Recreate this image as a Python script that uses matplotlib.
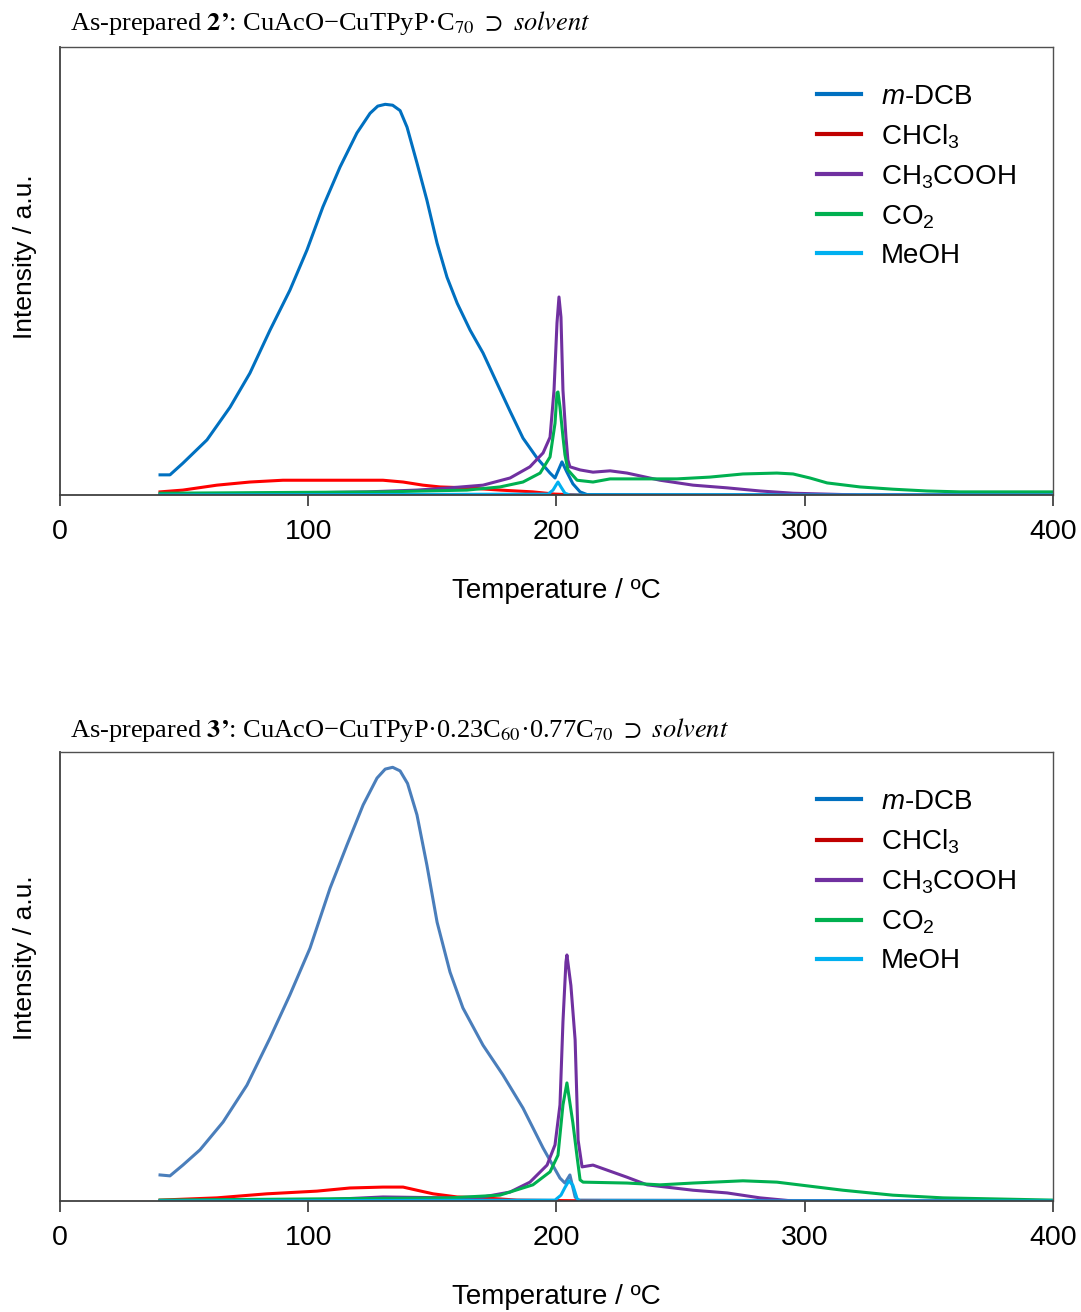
import matplotlib
matplotlib.use("Agg")
import matplotlib.pyplot as plt
from matplotlib.lines import Line2D

plt.rcParams['font.family'] = ['Liberation Sans', 'DejaVu Sans']
plt.rcParams['mathtext.fontset'] = 'custom'
plt.rcParams['mathtext.rm'] = 'Liberation Sans'
plt.rcParams['mathtext.it'] = 'Liberation Sans:italic'
plt.rcParams['mathtext.bf'] = 'Liberation Sans:bold'

labels = [r'$\it{m}$-DCB', r'CHCl$_3$', r'CH$_3$COOH', r'CO$_2$', 'MeOH']
legend_colors = ['#0070C0', '#C00000', '#7030A0', '#00B050', '#00B0F0']

# ---- panel 1 : 2' ----
t1_dcb = [40.3, 44.3, 49.5, 59.2, 68.5, 76.5, 84.6, 92.6, 99.5, 105.9, 112.8, 119.6,
          124.9, 128.0, 131.0, 134.0, 137.0, 139.8, 143.8, 147.8, 151.9, 155.9, 160.0,
          165.2, 170.4, 176.0, 181.3, 186.5, 192.1, 197.4, 199.4, 202.2, 204.2, 206.6,
          209.5, 212.3, 400]
i1_dcb = [4.5, 4.5, 7.1, 12.3, 19.6, 27.2, 36.8, 45.7, 54.7, 64.3, 73.2, 80.8,
          85.2, 86.8, 87.2, 87.0, 85.8, 82.1, 74.1, 65.8, 56.2, 48.6, 42.8,
          36.8, 31.7, 25.0, 18.7, 12.7, 8.3, 4.9, 3.8, 7.4, 5.1, 2.5,
          0.7, 0.1, 0.0]

t1_chcl3 = [40.3, 49.5, 63.2, 76.5, 89.8, 103.5, 116.8, 130.1, 138.2, 146.2, 153.1,
            163.9, 177.2, 190.5, 199.4, 209.5]
i1_chcl3 = [0.7, 1.1, 2.2, 2.9, 3.3, 3.3, 3.3, 3.3, 2.9, 2.2, 1.8,
            1.6, 1.1, 0.7, 0.2, 0.0]

t1_acoh = [40.3, 89.8, 123.7, 143.8, 157.1, 170.4, 181.3, 189.3, 194.6, 197.4, 199.0,
           200.2, 201.0, 201.8, 202.6, 203.8, 204.6, 205.4, 209.5, 214.7, 221.6, 228.4,
           241.7, 255.0, 268.7, 282.0, 295.3, 309.0, 322.3, 400]
i1_acoh = [0.2, 0.4, 0.7, 1.1, 1.6, 2.2, 3.8, 6.3, 9.4, 12.9, 23.4,
           38.4, 44.2, 39.7, 23.4, 13.0, 7.8, 6.3, 5.6, 5.1, 5.4, 4.9,
           3.3, 2.2, 1.6, 0.9, 0.4, 0.2, 0.0, 0.0]

t1_co2 = [40.3, 130.1, 163.9, 177.2, 186.5, 193.4, 197.4, 199.4, 200.2, 200.6, 201.4,
          202.6, 203.4, 204.6, 208.3, 214.7, 221.6, 234.8, 248.5, 261.8, 275.1, 288.8,
          295.3, 302.1, 309.0, 322.3, 335.5, 349.2, 362.5, 400]
i1_co2 = [0.4, 0.7, 1.1, 1.8, 2.9, 4.9, 8.5, 16.0, 22.8, 23.0, 19.6,
          13.0, 9.0, 5.6, 3.3, 2.9, 3.6, 3.6, 3.6, 4.0, 4.7, 4.9,
          4.7, 3.8, 2.7, 1.8, 1.3, 0.9, 0.7, 0.7]

t1_meoh = [40.3, 196.6, 198.6, 199.8, 200.6, 201.8, 203.4, 205.4, 400]
i1_meoh = [0.0, 0.2, 1.1, 2.2, 2.9, 1.8, 0.4, 0.0, 0.0]

# ---- panel 2 : 3' ----
t2_dcb = [40.3, 44.3, 49.5, 56.4, 65.7, 75.3, 84.6, 92.6, 100.7, 108.8, 115.6, 122.1,
          127.7, 131.0, 134.0, 137.0, 140.0, 143.8, 147.8, 151.9, 157.1, 162.3, 170.4,
          178.4, 186.5, 194.6, 201.4, 203.4, 205.4, 207.5, 208.7, 400]
i2_dcb = [5.8, 5.6, 8.0, 11.4, 17.6, 25.8, 36.3, 45.9, 56.3, 69.7, 79.3, 88.2,
          94.2, 96.2, 96.6, 95.8, 93.0, 86.0, 74.8, 62.1, 51.0, 43.0, 34.7,
          28.1, 20.7, 11.8, 5.1, 4.0, 5.8, 0.9, 0.2, 0.0]

t2_chcl3 = [40.3, 63.2, 83.3, 103.5, 116.8, 130.1, 138.2, 143.8, 150.3, 160.0, 170.4,
            184.1, 217.0]
i2_chcl3 = [0.2, 0.7, 1.6, 2.2, 2.9, 3.1, 3.1, 2.4, 1.6, 0.9, 0.7,
            0.2, 0.0]

t2_acoh = [40.3, 103.5, 130.1, 157.1, 170.4, 181.3, 189.3, 196.2, 199.4, 201.4, 202.6,
           203.8, 204.2, 205.8, 207.5, 208.7, 210.3, 214.7, 228.4, 236.5, 255.0, 268.7,
           282.0, 295.3, 400]
i2_acoh = [0.0, 0.2, 0.9, 0.7, 0.9, 2.0, 4.2, 8.0, 12.5, 21.4, 39.9,
           53.2, 54.8, 48.0, 35.9, 13.6, 7.6, 8.0, 5.3, 3.6, 2.4, 1.8,
           0.7, 0.0, 0.0]

t2_co2 = [40.3, 157.1, 177.2, 190.5, 197.4, 200.6, 202.6, 204.2, 206.6, 208.3, 209.5,
          210.7, 228.4, 241.7, 255.0, 275.1, 288.8, 302.1, 315.4, 335.5, 355.7, 400]
i2_co2 = [0.2, 0.7, 1.3, 3.6, 6.5, 10.2, 21.4, 26.3, 17.4, 9.8, 4.7,
          4.2, 4.0, 3.6, 4.0, 4.5, 4.2, 3.3, 2.4, 1.3, 0.7, 0.2]

t2_meoh = [40.3, 199.4, 201.8, 203.4, 205.0, 206.6, 208.3, 209.5, 400]
i2_meoh = [0.0, 0.2, 1.3, 3.0, 4.5, 3.5, 0.5, 0.0, 0.0]

panels = [
    {
        'rect': [0.0555, 0.6227, 0.9186, 0.3415],
        'title': r"As-prepared $\mathbf{2’}$: CuAcO−CuTPyP·C$_{70}$ $\supset$ $\mathit{solvent}$",
        'title_y': 0.9825,
        'ylab_y': 0.804,
        'series': [(t1_dcb, i1_dcb, '#0070C0'), (t1_chcl3, i1_chcl3, '#FF0000'),
                   (t1_acoh, i1_acoh, '#7030A0'), (t1_co2, i1_co2, '#00B050'),
                   (t1_meoh, i1_meoh, '#00B0F0')],
    },
    {
        'rect': [0.0555, 0.0846, 0.9186, 0.3422],
        'title': r"As-prepared $\mathbf{3’}$: CuAcO−CuTPyP·0.23C$_{60}$·0.77C$_{70}$ $\supset$ $\mathit{solvent}$",
        'title_y': 0.4436,
        'ylab_y': 0.270,
        'series': [(t2_dcb, i2_dcb, '#4A7EBB'), (t2_chcl3, i2_chcl3, '#FF0000'),
                   (t2_acoh, i2_acoh, '#7030A0'), (t2_co2, i2_co2, '#00B050'),
                   (t2_meoh, i2_meoh, '#00B0F0')],
    },
]

fig = plt.figure(figsize=(10.81, 13.12), dpi=100)

for p in panels:
    ax = fig.add_axes(p['rect'])
    for t, v, c in p['series']:
        ax.plot(t, v, color=c, lw=2.2)
    ax.set_xlim(0, 400)
    ax.set_ylim(0, 100)
    ax.set_xticks([0, 100, 200, 300, 400])
    ax.set_yticks([])
    ax.tick_params(axis='x', direction='out', length=8, width=1.2, pad=9,
                   labelsize=20.5, colors='#333333', labelcolor='black')
    for side in ['left', 'bottom']:
        ax.spines[side].set_linewidth(1.3)
        ax.spines[side].set_color('#404040')
    for side in ['top', 'right']:
        ax.spines[side].set_linewidth(1.0)
        ax.spines[side].set_color('#505050')
    ax.set_xlabel('Temperature / ºC', fontsize=20, labelpad=24)

    handles = [Line2D([], [], color=c, lw=3) for c in legend_colors]
    ax.legend(handles, labels, loc='upper left', bbox_to_anchor=(0.762, 0.918),
              frameon=False, fontsize=20, handlelength=1.6, handletextpad=0.7,
              labelspacing=0.45, borderpad=0, borderaxespad=0)

    fig.text(0.0648, p['title_y'], p['title'], fontsize=19, va='center', ha='left',
             family=['Liberation Serif', 'DejaVu Serif'], math_fontfamily='stix')
    fig.text(0.023, p['ylab_y'], 'Intensity / a.u.', fontsize=19, rotation=90,
             va='center', ha='center')

fig.savefig('out.png', dpi=100)
